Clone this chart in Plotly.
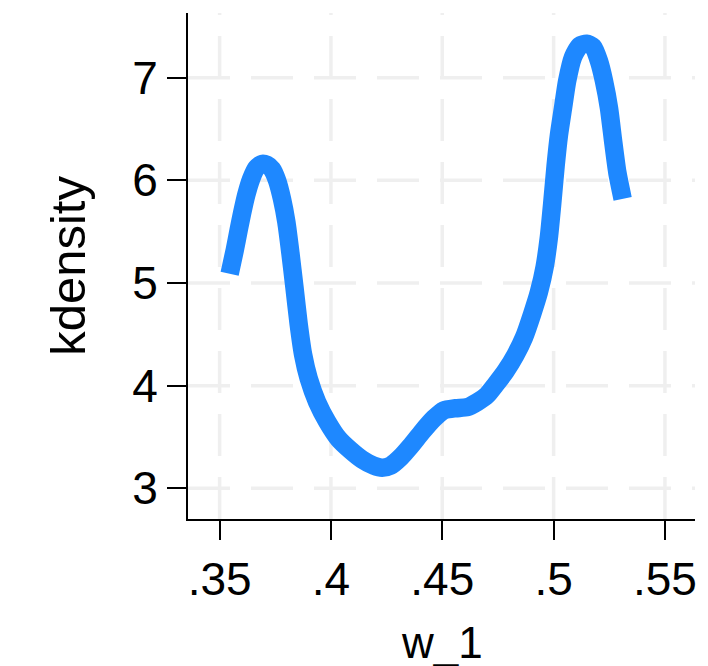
import plotly.graph_objects as go

# Kernel density estimate of w_1 (evaluation grid and density values)
w_1 = [0.3545, 0.3568, 0.3586, 0.3601, 0.3620, 0.3641, 0.3665, 0.3690, 0.3713,
       0.3735, 0.3758, 0.3780, 0.3800, 0.3818, 0.3836, 0.3855, 0.3875, 0.3900,
       0.3938, 0.3983, 0.4035, 0.4088, 0.4140, 0.4192, 0.4230, 0.4267, 0.4312,
       0.4357, 0.4409, 0.4462, 0.4507, 0.4559, 0.4612, 0.4657, 0.4702, 0.4739,
       0.4784, 0.4829, 0.4867, 0.4904, 0.4934, 0.4960, 0.4979, 0.4994, 0.5009,
       0.5024, 0.5042, 0.5061, 0.5087, 0.5117, 0.5148, 0.5177, 0.5204, 0.5226,
       0.5249, 0.5268, 0.5286, 0.5310]
kdensity = [5.09, 5.32, 5.52, 5.68, 5.86, 6.01, 6.12, 6.16, 6.15,
            6.11, 6.00, 5.82, 5.59, 5.29, 4.96, 4.60, 4.30, 4.07,
            3.84, 3.65, 3.48, 3.37, 3.28, 3.22, 3.20, 3.22, 3.30,
            3.41, 3.55, 3.68, 3.76, 3.78, 3.79, 3.84, 3.91, 4.01,
            4.14, 4.30, 4.47, 4.70, 4.91, 5.16, 5.45, 5.78, 6.14,
            6.44, 6.70, 6.97, 7.20, 7.31, 7.33, 7.30, 7.16, 6.97,
            6.70, 6.37, 6.08, 5.82]

x_ticks = [0.35, 0.40, 0.45, 0.50, 0.55]
x_tick_labels = [".35", ".4", ".45", ".5", ".55"]
y_ticks = [3, 4, 5, 6, 7]
y_tick_labels = ["3", "4", "5", "6", "7"]

x_range = [0.3358, 0.5635]
y_range = [2.701, 7.630]

FONT = "Liberation Sans, Arial, Helvetica, sans-serif"
GRID = "#EFEFEF"
GRID_DASH = "42px,21px"

fig = go.Figure()
fig.add_trace(go.Scatter(
    x=w_1, y=kdensity, mode="lines",
    line=dict(color="#1E88FF", width=18.5, shape="spline", smoothing=0.6),
    showlegend=False, hoverinfo="skip",
))

# Dashed grid, drawn from the bottom / left edges so the dash phase starts there
shapes = []
for xv in x_ticks:
    shapes.append(dict(type="line", xref="x", yref="y", layer="below",
                       x0=xv, x1=xv, y0=y_range[0], y1=y_range[1],
                       line=dict(color=GRID, width=3.5, dash=GRID_DASH)))
for yv in y_ticks:
    shapes.append(dict(type="line", xref="x", yref="y", layer="below",
                       x0=x_range[0], x1=x_range[1], y0=yv, y1=yv,
                       line=dict(color=GRID, width=3.5, dash=GRID_DASH)))

axis_common = dict(
    showgrid=False, zeroline=False, showline=True, linecolor="black",
    linewidth=2, ticks="outside", ticklen=19, tickwidth=2, tickcolor="black",
    tickfont=dict(family=FONT, size=46, color="black"),
)

fig.update_layout(
    width=708, height=666,
    margin=dict(l=188, r=13, t=13, b=147, autoexpand=False),
    paper_bgcolor="white", plot_bgcolor="white",
    shapes=shapes,
    xaxis=dict(range=x_range, tickvals=x_ticks, ticktext=x_tick_labels,
               **axis_common),
    yaxis=dict(range=y_range, tickvals=y_ticks, ticktext=y_tick_labels,
               title=dict(text="kdensity", font=dict(family=FONT, size=49, color="black"),
                          standoff=31),
               **axis_common),
    annotations=[dict(text="w_1", xref="paper", yref="paper", x=0.5, y=-0.244,
                      xanchor="center", yanchor="middle", showarrow=False,
                      font=dict(family=FONT, size=44, color="black"))],
)

fig.write_html("out.html")
